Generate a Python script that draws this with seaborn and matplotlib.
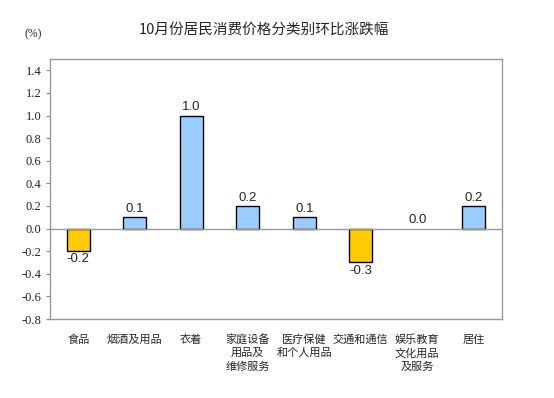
import matplotlib
matplotlib.use("Agg")
import matplotlib.pyplot as plt
import seaborn as sns
import pandas as pd

categories = ["食品", "烟酒及用品", "衣着", "家庭设备\n用品及\n维修服务", "医疗保健\n和个人用品",
              "交通和通信", "娱乐教育\n文化用品\n及服务", "居住"]
values = [-0.2, 0.1, 1.0, 0.2, 0.1, -0.3, 0.0, 0.2]
labels = ["-0.2", "0.1", "1.0", "0.2", "0.1", "-0.3", "0.0", "0.2"]
yticks = [-0.8, -0.6, -0.4, -0.2, 0.0, 0.2, 0.4, 0.6, 0.8, 1.0, 1.2, 1.4]
title = "10月份居民消费价格分类别环比涨跌幅"

sns.set_theme(style="white")
plt.rcParams['font.family'] = ['Noto Sans CJK SC', 'DejaVu Sans']

df = pd.DataFrame({"cat": categories, "val": values})
colors = ["#FFCC00" if v < 0 else "#99CCFF" for v in values]

fig = plt.figure(figsize=(5.54, 3.98), dpi=100)
ax = fig.add_axes([50/554, 1-319/398, 452/554, 260/398])
sns.barplot(data=df, x="cat", y="val", hue="cat", palette=colors, legend=False,
            width=0.4, edgecolor="black", linewidth=1.0, ax=ax, saturation=1)
for p, v in zip(ax.patches, values):
    if v == 0:
        p.set_linewidth(0)
ax.set_ylim(-0.8, 1.5)
ax.set_xlim(-0.5, 7.5)
ax.set_yticks(yticks)
ax.set_yticklabels([f"{t:.1f}" for t in yticks])
for t in ax.get_yticklabels():
    t.set_fontfamily("Liberation Serif")
    t.set_fontsize(9)
    t.set_color("#222222")
ax.set_xticks(range(len(categories)))
ax.set_xticklabels(categories, fontsize=8, linespacing=1.35, va="top")
ax.tick_params(axis="x", length=0, pad=11)
ax.tick_params(axis="y", length=3, width=0.8, color="#888888", direction="out", left=True, pad=3)
ax.set_xlabel("")
ax.set_ylabel("")
for s in ax.spines.values():
    s.set_color("#999999")
    s.set_linewidth(1.0)
ax.axhline(0, color="#999999", linewidth=1.0, zorder=1)

for i, (v, lab) in enumerate(zip(values, labels)):
    if v < 0:
        ax.text(i, v - 0.02, lab, ha="center", va="top", fontsize=9.5, family="Liberation Sans")
    else:
        ax.text(i, v + 0.02, lab, ha="center", va="bottom", fontsize=9.5, family="Liberation Sans")

fig.text(264/554, 1-30/398, title, ha="center", va="center", fontsize=10.5)
fig.text(33/554, 1-34/398, "(%)", ha="center", va="center", fontsize=8.5, family="Liberation Serif")

fig.savefig("out.png", dpi=100)
